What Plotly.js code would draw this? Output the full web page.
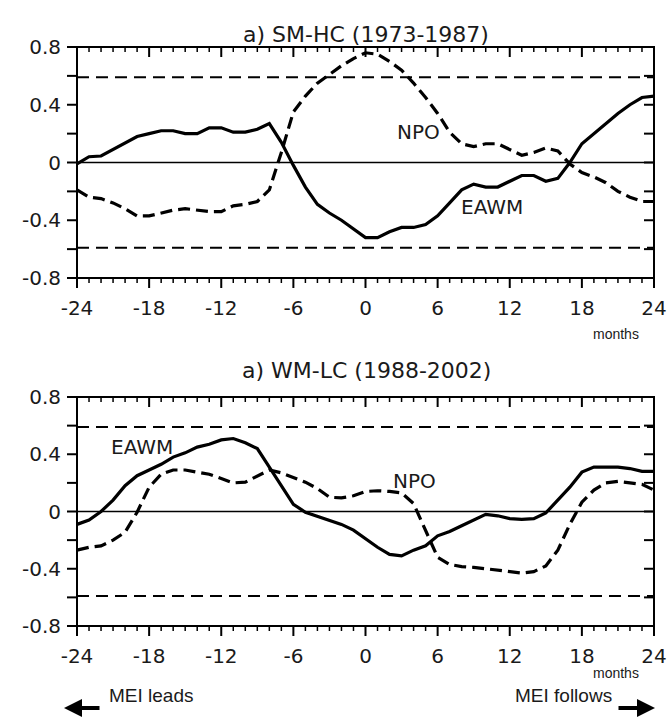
<!DOCTYPE html>
<html>
<head>
<meta charset="utf-8">
<script src="https://cdn.plot.ly/plotly-3.0.1.min.js"></script>
<style>html,body{margin:0;padding:0;background:#fff;}#chart{width:668px;height:722px;}</style>
</head>
<body>
<div id="chart"></div>
<script>
// ---- data ----
const months = [-24,-23,-22,-21,-20,-19,-18,-17,-16,-15,-14,-13,-12,-11,-10,-9,-8,-7,-6,-5,-4,-3,-2,-1,0,
                1,2,3,4,5,6,7,8,9,10,11,12,13,14,15,16,17,18,19,20,21,22,23,24];
const monthLabels = ['-24','','','','','','-18','','','','','','-12','','','','','','-6','','','','','','0',
                     '','','','','','6','','','','','','12','','','','','','18','','','','','','24'];

const eawmSM = [-0.01,0.04,0.045,0.09,0.13,0.18,0.20,0.22,0.22,0.20,0.20,0.24,0.24,0.21,0.21,0.23,0.27,0.14,-0.02,-0.17,-0.29,-0.35,-0.40,-0.46,-0.52,
                -0.52,-0.48,-0.45,-0.45,-0.43,-0.37,-0.28,-0.19,-0.15,-0.17,-0.17,-0.13,-0.09,-0.09,-0.13,-0.11,0.0,0.13,0.20,0.27,0.34,0.40,0.45,0.46];
const npoSM  = [-0.19,-0.24,-0.25,-0.28,-0.32,-0.37,-0.37,-0.35,-0.33,-0.32,-0.33,-0.34,-0.34,-0.30,-0.29,-0.27,-0.19,0.07,0.35,0.46,0.55,0.61,0.67,0.72,0.76,
                0.75,0.70,0.64,0.55,0.45,0.34,0.21,0.13,0.11,0.13,0.13,0.09,0.05,0.07,0.10,0.08,-0.01,-0.07,-0.10,-0.14,-0.20,-0.24,-0.27,-0.27];

const eawmWM = [-0.09,-0.06,0.0,0.08,0.18,0.25,0.29,0.33,0.38,0.41,0.45,0.47,0.50,0.51,0.48,0.44,0.31,0.18,0.05,-0.005,-0.035,-0.06,-0.09,-0.13,-0.19,
                -0.25,-0.30,-0.31,-0.27,-0.24,-0.17,-0.14,-0.10,-0.06,-0.02,-0.03,-0.05,-0.055,-0.05,-0.01,0.08,0.17,0.275,0.31,0.31,0.31,0.30,0.28,0.28];
const npoWM  = [-0.27,-0.25,-0.24,-0.20,-0.145,-0.005,0.17,0.26,0.29,0.29,0.275,0.26,0.23,0.20,0.205,0.25,0.29,0.27,0.24,0.205,0.16,0.10,0.095,0.11,0.14,
                0.145,0.14,0.13,0.055,-0.13,-0.32,-0.37,-0.385,-0.39,-0.40,-0.41,-0.42,-0.43,-0.42,-0.38,-0.27,-0.09,0.065,0.15,0.20,0.21,0.20,0.19,0.15];

const sigLevel = 0.59;
const xRange = [-24, 24];
const yRange = [-0.8, 0.8];
const yTickVals = [-0.8,-0.6,-0.4,-0.2,0,0.2,0.4,0.6,0.8];
const yTickText = ['-0.8','','-0.4','','0','','0.4','','0.8'];
const titles = ['a) SM-HC (1973-1987)', 'a) WM-LC (1988-2002)'];

// ---- layout helpers ----
// frame: x 77..654 ; panel 1 y 47..278 ; panel 2 y 397..626 (pixels)
// plot area padded so outside ticks are not clipped: x 65..657, y 44..638
const W = 668, H = 722;
const PL = 65, PR = 657, PT = 44, PB = 638;
const px = v => (v - PL) / (PR - PL);
const py = v => 1 - (v - PT) / (PB - PT);
const pxu = (654 - 77) / (xRange[1] - xRange[0]);
const pyu = [231 / (yRange[1] - yRange[0]), 229 / (yRange[1] - yRange[0])];
const doms = [[py(290), py(44)], [py(638), py(394)]];
const FONT = 'DejaVu Sans, Verdana, sans-serif';
const ARIAL = 'Liberation Sans, Arial, sans-serif';
const TXT = '#1a1a1a';

function lineTrace(x, y, xa, ya, width, dash){
  return {x: x, y: y, xaxis: xa, yaxis: ya, mode: 'lines', showlegend: false, hoverinfo: 'skip',
          connectgaps: false, line: {color: '#000', width: width, dash: dash || 'solid'}};
}

const data = [];
const layout = {width: W, height: H, margin: {l: PL, r: W - PR, t: PT, b: H - PB},
                paper_bgcolor: '#fff', plot_bgcolor: '#fff', showlegend: false, annotations: []};

const series = [[eawmSM, npoSM], [eawmWM, npoWM]];
const ids = [{x: 'x', y: 'y'}, {x: 'x2', y: 'y2'}];
const key = a => (a[0] === 'x' ? 'xaxis' : 'yaxis') + a.slice(1);

for (let p = 0; p < 2; p++) {
  const id = ids[p];
  const xLo = xRange[0], xHi = xRange[1], yLo = yRange[0], yHi = yRange[1];
  const dyMaj = 10 / pyu[p], dyMin = 5 / pyu[p], dxTick = 10 / pxu;

  // reference lines and series
  data.push(lineTrace(xRange, [0, 0], id.x, id.y, 1.6));
  data.push(lineTrace(xRange, [sigLevel, sigLevel], id.x, id.y, 2, '12px,7px'));
  data.push(lineTrace(xRange, [-sigLevel, -sigLevel], id.x, id.y, 2, '12px,7px'));
  data.push(lineTrace(months, series[p][0], id.x, id.y, 3.2));
  data.push(lineTrace(months, series[p][1], id.x, id.y, 3.2, '12px,6px'));

  // frame
  data.push(lineTrace([xLo, xHi, xHi, xLo, xLo], [yLo, yLo, yHi, yHi, yLo], id.x, id.y, 2));

  // x ticks: bottom outside, top inside (major where labelled, minor otherwise)
  const majX = [], majY = [], minX = [], minY = [];
  months.forEach(function(m, i){
    const major = monthLabels[i] !== '';
    const d = major ? dyMaj : dyMin;
    const X = major ? majX : minX, Y = major ? majY : minY;
    X.push(m, m, null, m, m, null);
    Y.push(yLo, yLo - d, null, yHi, yHi - d, null);
  });
  data.push(lineTrace(majX, majY, id.x, id.y, 2));
  data.push(lineTrace(minX, minY, id.x, id.y, 1.5));

  // y ticks: left outside, right inside
  const tyX = [], tyY = [];
  yTickVals.forEach(function(v){
    tyX.push(xLo, xLo - dxTick, null, xHi, xHi - dxTick, null);
    tyY.push(v, v, null, v, v, null);
  });
  data.push(lineTrace(tyX, tyY, id.x, id.y, 2));

  layout[key(id.x)] = {anchor: id.y, range: [xLo - 12 / pxu, xHi + 3 / pxu],
      tickmode: 'array', tickvals: months, ticktext: monthLabels, ticks: '', ticklabelstandoff: 4,
      showline: false, showgrid: false, zeroline: false,
      tickfont: {family: FONT, size: 20, color: TXT}};
  layout[key(id.y)] = {domain: doms[p], anchor: id.x, range: [yLo - 12 / pyu[p], yHi + 3 / pyu[p]],
      tickmode: 'array', tickvals: yTickVals, ticktext: yTickText, ticks: '', ticklabelstandoff: 3,
      showline: false, showgrid: false, zeroline: false,
      tickfont: {family: FONT, size: 20, color: TXT}};
}

const ann = layout.annotations;
function textAnn(text, x, y, xref, yref, size, family, extra){
  ann.push(Object.assign({text: text, x: x, y: y, xref: xref, yref: yref, showarrow: false,
    font: {family: family || FONT, size: size, color: TXT}}, extra || {}));
}
textAnn(titles[0], px(366), py(20), 'paper', 'paper', 22);
textAnn(titles[1], px(366), py(370), 'paper', 'paper', 22);
textAnn('NPO', 4.4, 0.21, 'x', 'y', 20);
textAnn('EAWM', 10.5, -0.305, 'x', 'y', 20);
textAnn('EAWM', -18.6, 0.45, 'x2', 'y2', 20);
textAnn('NPO', 4.1, 0.215, 'x2', 'y2', 20);
textAnn('months', px(641), py(334), 'paper', 'paper', 14, ARIAL);
textAnn('months', px(641), py(683), 'paper', 'paper', 14, ARIAL);
textAnn('MEI leads', px(107), py(708), 'paper', 'paper', 19, ARIAL, {xanchor: 'left'});
textAnn('MEI follows', px(614), py(708), 'paper', 'paper', 19, ARIAL, {xanchor: 'right'});
ann.push({text: '', x: px(64), y: py(708), xref: 'paper', yref: 'paper', showarrow: true, ax: 37, ay: 0,
          arrowhead: 2, arrowsize: 0.9, arrowwidth: 4, arrowcolor: '#000', standoff: 0});
ann.push({text: '', x: px(655), y: py(708), xref: 'paper', yref: 'paper', showarrow: true, ax: -38, ay: 0,
          arrowhead: 2, arrowsize: 0.9, arrowwidth: 4, arrowcolor: '#000', standoff: 0});

Plotly.newPlot('chart', data, layout, {displayModeBar: false});
</script>
</body>
</html>
